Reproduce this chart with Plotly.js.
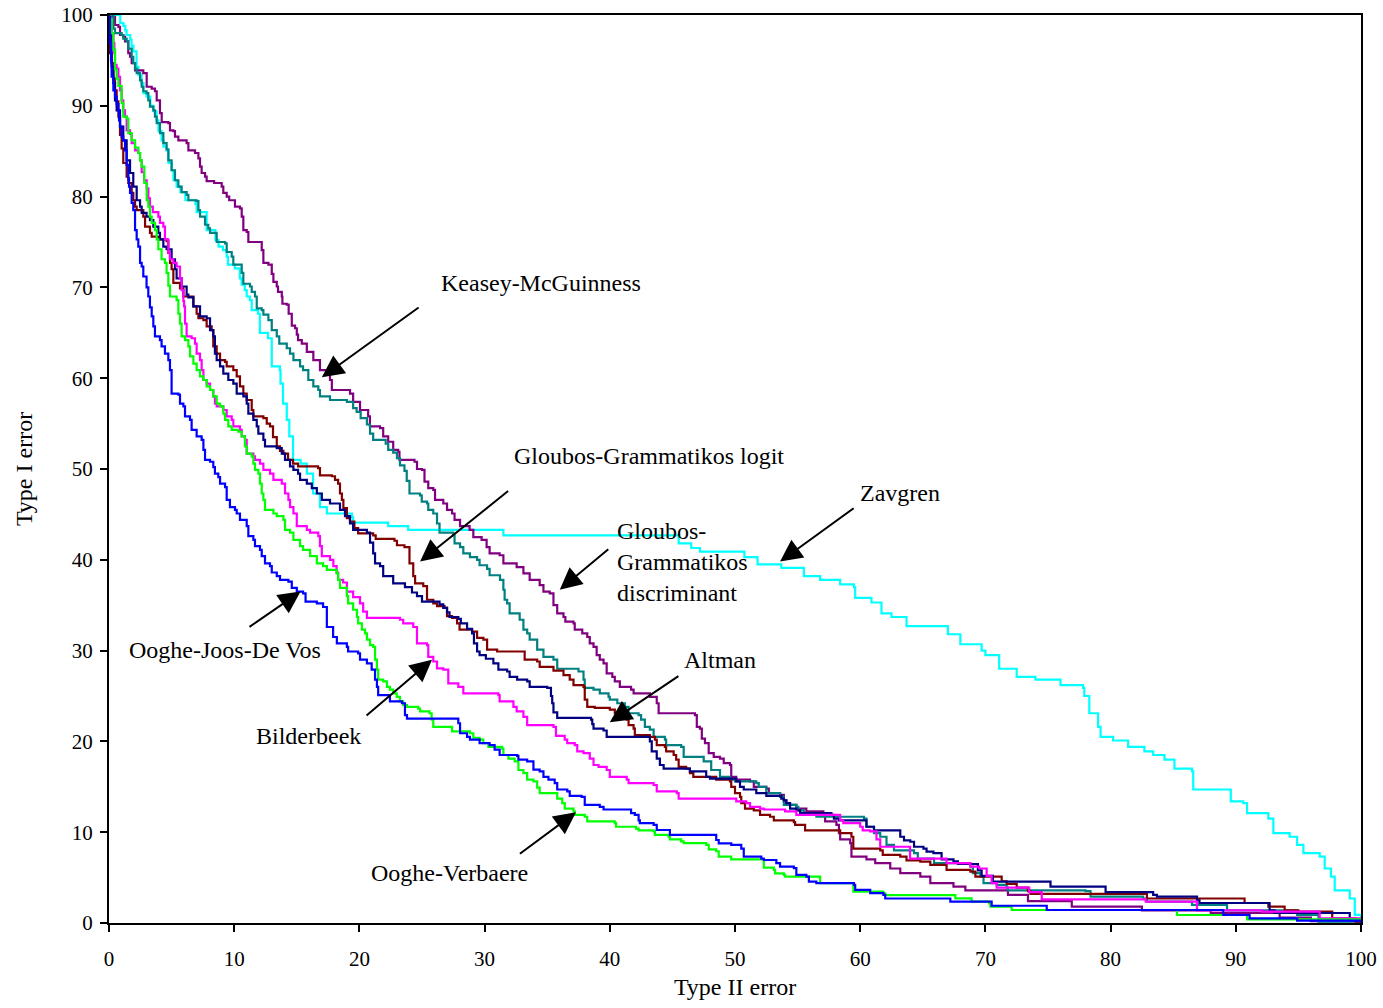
<!DOCTYPE html>
<html>
<head>
<meta charset="utf-8">
<script src="https://cdn.plot.ly/plotly-3.0.1.min.js"></script>
<style>html,body{margin:0;padding:0;background:#fff;}</style>
</head>
<body>
<div id="chart" style="width:1383px;height:1008px;"></div>
<script>
// Axis ticks
const xTicks = [0,10,20,30,40,50,60,70,80,90,100];
const yTicks = [0,10,20,30,40,50,60,70,80,90,100];

// Series: [Type II error, Type I error] corner points of each step curve
const zavgren = [[0,100],[0.8,100],[0.9,99.1],[1.15,98.8],[1.3,98.3],[1.4,97.8],[1.7,97.3],[1.8,96.6],[1.95,96],[2.2,94.3],[2.35,93.4],[2.6,92.5],[2.75,91.4],[3,91],[3.3,90],[3.55,89.4],[3.8,88.4],[3.95,87.2],[4.2,86.2],[4.35,85.5],[4.6,85.1],[4.75,83.7],[5,82.9],[5.15,81.8],[5.4,81.1],[5.7,80.5],[6.1,79.6],[6.9,79.2],[7,78.3],[7.8,76.3],[8.5,75.2],[8.75,74.5],[9.1,74.1],[9.4,73.4],[9.5,72.5],[10.05,72.1],[10.45,71],[10.6,70.3],[10.85,69.7],[11,69],[11.25,68.6],[11.4,67.5],[11.9,67.1],[12.05,65],[12.7,64.4],[13,61.3],[13.65,60.9],[13.7,59.4],[13.9,57.2],[14.2,55.4],[14.4,53.6],[14.7,51],[15.3,50.6],[15.8,49.5],[16.3,47.3],[16.85,45.8],[17.4,45.1],[19.4,44.7],[19.5,44.1],[22.3,43.7],[23.9,43.3],[31.5,42.7],[44.5,42.7],[45.5,41.8],[46.5,41.3],[47.2,40.9],[50.75,40.3],[51.8,39.5],[53.7,39.1],[55.5,38.2],[56.8,37.8],[58.4,37.3],[59.5,37],[59.6,35.8],[60.9,35.3],[61.7,34.1],[62.5,33.7],[63.7,32.7],[67,31.8],[68,30.7],[69.7,30],[70,29.5],[71.1,28],[72.5,27.1],[74,26.8],[76,26.2],[77.8,25.9],[77.9,25],[78.3,23.1],[79,21.6],[79.2,20.5],[80.2,20.1],[81.4,19.4],[82.7,18.9],[83.4,18.5],[84.3,18],[85.1,17],[86.5,16.7],[86.6,14.7],[89.6,13.4],[90.6,13.2],[90.9,12.1],[92.6,11.5],[93,9.9],[94.3,9.5],[94.9,8.6],[95.4,7.7],[96.7,7.3],[97.1,6],[97.6,5.1],[97.9,3.6],[99.1,2.7],[99.5,0.9],[100,0]];

const grammatikosDiscriminant = [[0,100],[0.2,99.8],[0.48,98.9],[0.75,98.7],[0.88,97.8],[1.14,97.6],[1.28,97.1],[1.54,95.8],[1.68,95.4],[1.81,94.7],[2.08,93.9],[2.74,93.6],[3.01,92.1],[3.41,91.9],[3.67,91.6],[3.81,90.6],[4.07,89.2],[4.21,88.2],[4.74,88.1],[4.87,87.3],[5.14,87.2],[5.27,86.6],[5.54,86.2],[6.2,85.9],[6.34,85.1],[6.87,84.8],[7.14,84.2],[7.27,83.3],[7.4,82.6],[7.67,82.2],[7.8,81.7],[8.4,81.5],[9,81.1],[9.13,80.4],[9.4,80],[9.6,79.6],[10.06,78.9],[10.46,78.7],[10.6,77.8],[10.73,76.3],[11,76.1],[11.13,75],[12.2,74.1],[12.33,72.7],[12.73,72.5],[13,71.5],[13.13,70.6],[13.4,70.1],[13.5,69.5],[13.8,69],[13.85,68.2],[14.2,68.1],[14.35,67.1],[14.6,65.8],[14.86,65.5],[15,64.8],[15.1,64.2],[15.4,63.8],[15.8,62.9],[16.32,62],[16.85,60.9],[17.65,59.8],[17.8,58.7],[19.25,58.3],[19.5,57.4],[20.05,56.5],[20.7,55.8],[20.84,54.7],[21.65,54.5],[21.9,53.6],[22.3,53],[22.7,52.1],[23.1,51.9],[23.2,51],[24.4,50.8],[24.6,50],[25,49.9],[25.2,48.6],[25.5,47.9],[25.9,47.7],[26.04,46.6],[26.7,46.2],[27,45.5],[27.4,45.1],[27.6,44.4],[28.04,43.7],[28.8,43.3],[29.1,42.5],[29.76,42.2],[30.16,41.4],[30.4,40.7],[31.2,40.5],[31.5,39.6],[32.56,39.2],[33.1,38.5],[33.6,37.8],[34.4,37.2],[34.7,36.5],[35.2,36.3],[35.5,35],[35.8,34.1],[36.3,33.7],[36.45,33.2],[37.1,33],[37.2,32.3],[37.8,31.9],[38.2,31.5],[38.4,30.8],[38.7,30.4],[38.95,29.5],[39.2,29],[39.5,28.6],[39.75,27.5],[40.2,27.1],[40.4,26.6],[40.8,26],[41.7,25.7],[41.9,25.3],[43.2,24.9],[43.75,24.2],[43.9,23.1],[46.8,22.9],[46.95,21.6],[47.2,21.4],[47.35,20.3],[47.6,19.8],[47.9,18.7],[48.3,18.3],[48.8,18.1],[49.1,17.6],[49.6,17.4],[49.7,16.1],[50.1,15.8],[51.2,15.6],[51.5,15],[52.5,14.8],[52.7,14.3],[53.6,14.1],[53.9,13.5],[54.1,13],[54.9,12.6],[55.7,12.3],[57.06,12.1],[57.2,11.2],[58.1,10.8],[58.3,9.9],[58.4,9.2],[59.2,8.8],[59.3,7.3],[60.5,7],[61.2,6.6],[62.4,6],[63.2,5.5],[64.8,5.1],[65.6,4.4],[67.45,4],[68.4,3.6],[71.8,3.1],[73.4,2.4],[76.9,1.8],[82.5,1.4],[88,1.1],[93.5,0.6],[96,0.2],[100,0]];

const keaseyMcGuinness = [[0,100],[0.21,100],[0.35,98.5],[0.48,98],[1.01,97.8],[1.14,97.4],[1.41,97.1],[1.54,96.3],[1.81,95.4],[1.94,94.7],[2.08,94.1],[2.21,93.6],[2.48,92.8],[2.61,92.1],[2.74,91.6],[3,91.4],[3.14,90.6],[3.27,89.9],[3.54,89.5],[3.67,88.8],[3.81,88.1],[4.07,87],[4.34,85.9],[4.6,85.2],[4.74,84],[5,82.9],[5.27,81.8],[5.54,81.1],[5.8,80.5],[6.2,80.2],[6.34,79.6],[7,79.5],[7.14,78.5],[7.27,77.8],[7.67,76.9],[7.93,76.5],[8.07,76],[8.6,75],[9.27,74.85],[9.4,73.9],[9.8,73.4],[9.93,72.5],[10.6,71.6],[10.73,70.4],[11.26,70.1],[11.4,69.5],[11.66,69],[11.8,67.7],[12.2,67.5],[12.33,67],[12.73,66.4],[13,65.3],[13.4,64.6],[13.6,63.8],[14.2,63.3],[14.46,62.7],[14.73,62],[15.26,61.3],[15.5,60.9],[15.92,59.8],[16.32,59.1],[16.72,58.7],[16.85,58],[17.65,57.6],[19,57.4],[19.5,56.7],[19.78,56.3],[20.1,55.6],[20.6,54.9],[20.85,53.9],[21.1,53.2],[22.1,52.8],[22.3,52.1],[22.7,51.8],[23,51.2],[23.24,50.4],[23.6,49.8],[23.78,48.7],[24,47.3],[24.84,47.1],[24.98,46.4],[25.4,46.2],[25.5,45.5],[25.9,45.1],[26.2,44],[26.4,43],[27.5,42.7],[27.6,41.8],[28.04,41.4],[28.3,40.7],[28.83,40.3],[29.4,40],[29.6,39.4],[30.2,39],[30.4,38.3],[31.23,37.8],[31.5,36.7],[31.6,35.6],[31.8,35.2],[32,34.1],[32.8,33.4],[33.1,32.3],[33.4,31.9],[33.6,31.2],[34.2,30.1],[34.7,29.3],[35.5,29],[35.8,28],[37.5,27.7],[37.9,26.8],[38,25.9],[38.7,25.7],[39.2,25.3],[39.9,24.9],[40,24.6],[40.6,24.2],[41.2,23.8],[41.5,23.1],[42.3,22.9],[42.5,22.4],[42.8,21.6],[43.2,21.3],[43.5,20.5],[44.4,20.2],[44.5,19.6],[45.7,19.4],[45.9,18.3],[47.5,17.8],[48.1,16.85],[48.8,16.1],[49.6,15.8],[50,15.6],[51.7,15.4],[51.9,15],[52.5,14.3],[53.6,13.9],[53.9,13],[54.9,12.8],[55.06,12.4],[55.5,12.1],[56.5,11.7],[60.3,11.5],[60.5,10.6],[61.1,9.9],[61.6,9.5],[62.1,8.6],[62.7,8],[64.3,7.7],[64.6,7.1],[65.9,6.6],[68.8,6.2],[69,5.5],[69.6,5.1],[69.85,4.4],[70.9,4.2],[71.7,3.9],[71.8,3.6],[78,3.5],[78.4,2.9],[82.6,2.7],[82.9,2.35],[86.5,2],[89.3,1.4],[94.9,0.9],[96.6,0.15],[100,0]];

const grammatikosLogit = [[0,100],[0.08,95.8],[0.21,94.7],[0.35,93],[0.48,91.7],[0.61,90.5],[0.75,88.8],[0.88,86.8],[1.01,85.3],[1.14,83.7],[1.41,82.2],[1.54,81.5],[1.81,80.4],[1.94,79.6],[2.08,78.9],[2.21,78.5],[2.74,77.8],[2.88,76.7],[3.27,76],[3.41,75.6],[3.94,75.3],[4.6,75.1],[4.74,73.8],[4.87,72.7],[5,72],[5.14,70.5],[5.67,69.9],[5.94,69],[6.74,67.9],[7,67.1],[7.14,66.6],[7.54,66.4],[7.8,65.7],[8.2,65.3],[8.33,63.5],[8.6,62.7],[8.87,62],[9.27,61.8],[9.4,61.3],[9.93,60.9],[10.2,60.2],[10.46,59.1],[10.73,58.3],[11,57.6],[11.4,56.5],[11.53,55.8],[12.33,55.6],[12.6,55],[12.86,54.7],[13.1,53.5],[13.4,52.5],[13.66,52],[13.93,51.7],[14.3,51],[14.7,50.6],[15.1,50.3],[16.7,50.1],[16.85,49.3],[17.8,49.2],[18.05,48.8],[18.3,48.4],[18.45,47.3],[18.6,46.6],[18.72,45.7],[19,44.6],[19.25,44.2],[19.6,43.5],[19.9,42.9],[21.1,42.7],[21.3,42.3],[22.8,42.1],[23,41.6],[23.6,41.4],[24,39.6],[24.3,38.2],[24.45,37.4],[25.1,37.1],[25.4,35.6],[25.9,35.2],[26.2,34.9],[26.8,34.7],[27,33.8],[27.4,33.6],[27.8,33],[28,32.3],[29,32.1],[29.4,31.4],[29.9,31.2],[30.2,30.1],[31,29.9],[33.2,29],[34.2,28.8],[34.4,28.2],[35.5,27.8],[36.3,27.3],[36.8,26.8],[37.1,26.2],[37.9,26],[38,24.6],[38.2,23.8],[38.8,23.7],[40,23.5],[40.4,23.1],[40.8,22.9],[40.95,22.5],[41.35,22.4],[41.5,21.8],[41.9,21.4],[42,20.7],[43.2,20.5],[43.6,20.2],[43.75,19.6],[44.4,19.4],[44.5,18.9],[45.1,18.5],[45.3,18],[45.5,17.2],[46.1,17],[46.4,16.5],[46.67,16.1],[48.5,15.8],[49.6,15.6],[49.7,15],[50,14.3],[50.4,13.9],[50.5,13.2],[50.8,12.6],[51.5,12.4],[52,11.9],[52.8,11.7],[53.1,11.3],[54.7,11.1],[54.8,10.8],[55.6,10.2],[58.4,9.9],[59.3,9.5],[59.45,8.2],[61.6,8],[61.8,7.5],[63.2,7.3],[63.7,6.9],[64.8,6.75],[65.6,6.4],[66.9,5.84],[68.8,5.65],[69.2,5.1],[71.3,4.6],[71.7,4.3],[72.5,3.9],[73.4,3.5],[73.6,3.2],[82.9,2.7],[90.7,2.2],[92.6,1.8],[93.9,1.4],[95,1.25],[97.7,0.5],[99.6,0.15],[100,0]];

const altman = [[0,100],[0.05,98],[0.21,94.3],[0.35,92.5],[0.48,90.6],[0.61,89.5],[0.88,87.7],[1.14,86.2],[1.41,84],[1.68,82.6],[1.94,81.1],[2.21,79.6],[2.48,78.9],[2.61,78.2],[3,77.8],[3.27,77.4],[3.54,76.7],[3.94,76],[4.07,75.3],[4.34,74.5],[4.6,74.2],[5,73.1],[5.27,72],[5.4,71],[5.8,70.1],[6.2,69.2],[6.34,68.9],[6.74,67.9],[7.27,66.8],[7.8,66.6],[8.07,65.3],[8.33,64.6],[8.46,62.7],[8.6,62],[8.87,61.3],[9.13,60.5],[9.53,59.8],[9.93,59.4],[10.2,58.3],[10.73,58],[11,57.2],[11.13,56.1],[11.53,55.4],[11.8,54.7],[11.93,53.9],[12.33,53.2],[12.46,52.5],[13.4,52.3],[13.8,51.7],[14.06,51],[14.46,50.3],[14.73,49.9],[15.1,49.5],[15.26,48.8],[15.8,48.4],[16.2,47.9],[16.6,47.3],[17,46.6],[17.65,46.2],[18.45,45.5],[18.85,44.8],[19.25,44],[19.5,43.3],[20.6,43],[20.85,41.9],[21.1,40.7],[21.25,39.6],[21.65,39.3],[21.9,38.2],[22.7,37.4],[23.64,37],[24.2,36.4],[24.6,36],[25,35.4],[26.4,35.1],[26.7,34.7],[27,34.2],[27.2,33.7],[27.9,33.5],[28.1,33],[28.6,32.4],[29,31.9],[29.15,30.8],[29.4,29.9],[29.6,29.5],[30.1,29.1],[30.7,28.6],[31.1,27.9],[31.8,27.7],[32,27.1],[32.6,26.8],[33.4,26.6],[33.6,26],[35,25.9],[35.3,25],[35.4,24.2],[35.5,23.2],[35.8,22.6],[38.5,22.4],[38.6,21.9],[38.7,21.4],[39.5,21.2],[39.75,20.5],[43.2,20],[43.35,18.9],[43.75,18.1],[44,17.4],[44.3,17],[46.4,16.7],[47.7,16.1],[48,15.9],[50.1,15.6],[50.4,15],[50.7,14.7],[51.7,14.3],[52.5,14],[53.7,13.7],[53.9,13.5],[54.1,13.2],[54.4,12.6],[54.9,12.4],[55.2,12.1],[57.7,11.9],[57.9,11.5],[58.3,11.3],[60.5,10.6],[61.1,10.2],[63.2,9.5],[63.5,9.1],[64,8.95],[64.3,8.4],[65.05,8.2],[65.3,7.85],[65.85,7.7],[66.5,7],[67.45,6.8],[67.8,6.5],[69.4,5.8],[69.7,5.2],[70.6,4.55],[75.2,4],[79.6,3.4],[83.4,3.1],[83.7,2.9],[86.9,2.5],[87.1,2.2],[92.7,1.4],[93.1,1.1],[99.1,0.3],[100,0]];

const bilderbeek = [[0,100],[0.08,99.1],[0.21,98],[0.35,96.9],[0.43,95.8],[0.48,94.5],[0.61,94.1],[0.75,93.2],[0.88,91.7],[1.01,90.6],[1.14,89.5],[1.28,88.8],[1.41,87.3],[1.68,86.9],[1.81,85.9],[2.08,85.1],[2.34,84.8],[2.48,84],[2.61,82.7],[2.8,81.8],[3.01,80.9],[3.14,79.8],[3.27,78.9],[3.5,78.3],[3.94,77.8],[4.07,77.1],[4.34,76.7],[4.47,75.3],[4.74,73.8],[4.87,73.1],[5.14,72.7],[5.4,72.3],[5.67,71],[5.8,69.7],[5.94,68.5],[6,67.9],[6.07,66],[6.2,64.6],[6.6,64.4],[6.87,63.8],[7,62.7],[7.27,62],[7.4,60.9],[7.54,59.8],[7.8,59.4],[8.07,58.7],[8.33,58],[8.46,57.2],[8.6,56.9],[9.13,56.5],[9.4,55.8],[9.8,55.4],[9.93,54.7],[10.46,54.3],[10.6,53.6],[10.86,53.2],[11,51.7],[11.53,51.4],[11.66,51],[12.06,50.6],[12.33,49.9],[12.86,49.5],[13.13,48.8],[13.8,48.4],[14.06,47.3],[14.33,46.6],[14.46,45.8],[14.73,45.1],[15,43.7],[15.8,43.3],[16.06,43],[16.72,42.6],[16.85,41.5],[17,40.4],[17.65,40],[17.92,39.3],[18.18,38.6],[18.3,37.8],[18.7,37.5],[19,36.5],[19.5,35.9],[20.05,35.2],[20.3,34.3],[20.6,33.6],[23.24,33.4],[23.5,33],[24.3,32.6],[24.6,30.8],[25.4,30.6],[25.5,29.3],[25.9,28.8],[26.2,28.05],[26.7,27.9],[27.1,26.4],[27.9,26],[28.3,25.3],[31.1,25.1],[31.2,24.4],[32.3,23.8],[32.56,23.3],[33.1,22.7],[33.4,21.8],[35.5,21.6],[35.7,20.6],[36.4,20.2],[36.6,19.8],[37.2,19.6],[37.4,18.9],[37.9,18.7],[38.4,18.1],[38.7,17.4],[39.1,17.2],[39.75,16.85],[40,16.1],[41.35,15.8],[41.5,15.4],[43.5,15.2],[43.75,14.5],[45.35,14.3],[45.5,13.7],[50.1,13.4],[50.9,13.2],[51.2,12.8],[52,12.6],[52.3,12.5],[54,12.3],[54.9,11.9],[58.4,11.3],[58.65,11],[60,10.6],[60.2,10.2],[60.8,10.1],[61.3,9.2],[61.6,8.4],[63.98,7.1],[66.9,6.6],[68.8,6.2],[69.5,6],[70.1,5.2],[70.5,4.4],[70.9,3.9],[73.5,3.4],[74.5,2.6],[82.8,2.35],[86.9,1.4],[92.1,1.25],[96.7,0.5],[100,0]];

const oogheVerbaere = [[0,100],[0.1,99.5],[0.21,98],[0.35,96.2],[0.48,94],[0.61,93],[0.75,92.2],[1.01,90.3],[1.14,88.8],[1.41,88.6],[1.54,87],[1.81,86.2],[2.08,85.4],[2.34,84.8],[2.48,84],[2.61,83.3],[2.82,81.5],[3.01,79.6],[3.14,78.9],[3.27,77.8],[3.41,77.1],[3.67,76.3],[3.81,75.3],[3.94,74.2],[4.2,73.1],[4.47,72.7],[4.6,71.6],[4.74,70.2],[4.87,69],[5.4,68.6],[5.54,67.1],[5.67,66],[5.8,64.6],[6.07,64.2],[6.34,63.5],[6.47,62.4],[6.74,61.6],[7,60.9],[7.27,60.2],[7.54,59.8],[7.8,59.1],[8.07,58.7],[8.33,58],[8.6,57.2],[8.87,56.9],[9.13,56.1],[9.27,55.4],[9.53,54.7],[9.8,54.3],[10.33,54.1],[10.6,53.6],[10.86,52.5],[11,51.7],[11.4,51.4],[11.53,50.6],[11.66,49.9],[11.93,49.5],[12.06,48.4],[12.2,47.3],[12.33,46.6],[12.46,45.5],[13.13,45.1],[13.4,44.8],[13.93,44.4],[14.06,43.3],[14.46,43],[14.73,42.2],[15.26,41.5],[15.5,41.1],[16.06,40.4],[16.6,39.6],[17.1,39.3],[17.4,38.9],[18.18,38.5],[18.3,37.8],[18.45,36.9],[19,36],[19.1,35.2],[19.5,34.5],[19.8,33.7],[19.9,33],[20.2,32.3],[20.45,31.9],[20.6,31.2],[20.85,30.6],[21.1,30.4],[21.25,29],[21.4,27.9],[21.5,26.8],[21.9,26.6],[22.2,26],[22.44,25.7],[22.7,25.3],[22.98,24.9],[23.24,24.4],[23.5,24],[23.8,23.8],[24.7,23.6],[24.84,23.3],[25.6,23.1],[25.77,22.4],[25.9,21.6],[27.4,21.1],[28.83,20.9],[29.1,20.4],[29.6,20.2],[29.9,19.8],[30.3,19.4],[31.4,19.2],[31.5,18.5],[31.9,18.1],[32.4,17.8],[32.7,16.85],[33.1,16.5],[33.4,15.8],[33.9,15.6],[34.2,14.9],[34.4,14.3],[35.8,13.7],[36.2,13.2],[36.4,12.6],[37.1,12.3],[37.2,11.9],[38,11.7],[38.2,11.2],[40.4,11],[40.5,10.6],[42.1,10.4],[42.3,10.2],[43.5,10.1],[43.6,9.7],[44.7,9.5],[44.8,9.2],[45.7,9],[45.9,8.8],[47.7,8.6],[47.9,8.1],[48.5,7.9],[48.7,7.3],[49.7,7],[52.3,6.1],[53.1,5.84],[53.2,5.47],[53.9,5.29],[54,5.1],[56.8,4.4],[59.45,3.45],[61.85,3.27],[62,3.08],[67.6,2.71],[68.9,2.35],[70.3,2.16],[70.4,1.8],[72.1,1.43],[85.3,0.88],[90.9,0.4],[100,0]];

const oogheJoosDeVos = [[0,100],[0.02,99.8],[0.08,96.9],[0.16,95],[0.21,93.2],[0.35,91.7],[0.48,91],[0.61,90.2],[0.75,89.5],[0.8,88.4],[0.88,87.7],[1.01,86.6],[1.14,86.2],[1.28,85.1],[1.41,83.5],[1.54,82],[1.6,81.1],[1.68,80.4],[1.81,79.3],[1.94,78.5],[2.08,76.3],[2.21,75.3],[2.34,74.5],[2.48,72.7],[2.61,72.3],[2.74,71.2],[3,70],[3.14,69],[3.27,67.8],[3.41,66.8],[3.54,65.7],[3.67,64.6],[4.07,64.2],[4.2,63.5],[4.47,62.7],[4.74,62],[4.87,60.9],[5,58.3],[5.54,58.2],[5.67,57.2],[5.94,56.9],[6.07,55.8],[6.47,55.4],[6.6,54.3],[7,53.6],[7.4,53.2],[7.54,52.1],[7.67,51],[8.07,50.8],[8.33,50.2],[8.46,49.5],[8.73,49.1],[8.87,48.4],[9.27,48],[9.4,46.6],[9.66,45.8],[10.06,45.5],[10.2,45.1],[10.46,44.4],[11,43.7],[11.13,42.6],[11.53,42.2],[11.66,41.5],[12.06,41.1],[12.2,40.4],[12.46,39.6],[12.86,39.3],[13,38.6],[13.4,38.2],[13.66,37.8],[14.33,37.6],[14.6,36.9],[15,36.5],[15.5,36.3],[15.7,35.4],[16.6,35.2],[17.1,34.8],[17.4,32.6],[17.9,31.5],[18.2,30.8],[19,30.4],[19.1,29.9],[19.9,29.7],[20.05,29],[20.6,28.6],[20.98,27.9],[21.25,26.8],[21.4,26],[21.5,25.1],[22.44,24.4],[23.4,24.2],[23.64,22.9],[23.8,22.5],[27.9,22],[28.04,20.9],[28.6,20.5],[28.83,20.2],[29.6,19.8],[30.4,19.6],[30.8,19.1],[31.2,18.5],[32.6,18.4],[32.7,18],[33.4,17.8],[33.9,16.9],[34.4,16.7],[34.7,16.1],[35.1,15.8],[35.6,15.4],[35.8,14.7],[36.6,14.5],[36.8,14],[37.75,13.9],[38,13],[39.2,12.8],[39.5,12.5],[41.7,12.1],[42,11.9],[42.3,11.3],[42.4,11],[43.5,10.8],[43.75,10.24],[44.8,9.7],[48.5,9.14],[48.7,8.77],[49.7,8.6],[50.5,8.2],[50.7,7.3],[52.1,7.1],[52.3,6.94],[53.3,6.6],[53.6,6.2],[54.7,6.04],[54.9,5.3],[55.7,5.1],[55.9,4.55],[56.5,4.4],[59.5,4.2],[59.6,3.65],[60.8,3.3],[61.85,3.1],[62,2.7],[67.2,2.35],[70.5,1.9],[74.9,1.43],[89,0.88],[91.1,0.51],[94.9,0.26],[100,0]];

// Label texts and where they sit; arrow tips and tails
const labelTexts = ['Keasey-McGuinness','Gloubos-Grammatikos logit','Zavgren','Gloubos-<br>Grammatikos<br>discriminant','Altman','Ooghe-Joos-De Vos','Bilderbeek','Ooghe-Verbaere'];
const labelX = [34.5, 43.1, 63.2, 40.4, 48.8, 9.3, 15.9, 27.2];
const labelY = [70.5, 51.4, 47.4, 39.8, 29.0, 30.1, 20.6, 5.5];
const arrowTipX = [17.0, 24.85, 53.6, 36.0, 40.0, 15.3, 25.8, 37.3];
const arrowTipY = [60.1, 39.8, 39.8, 36.7, 22.1, 36.5, 29.0, 12.2];
const arrowTailX = [24.85, 32.0, 59.6, 40.0, 45.6, 11.1, 20.45, 32.7];
const arrowTailY = [67.9, 47.7, 45.8, 41.3, 27.3, 32.5, 22.7, 7.5];

const series = [
  {name:'Zavgren', pts: zavgren, color:'#00FFFF'},
  {name:'Gloubos-Grammatikos discriminant', pts: grammatikosDiscriminant, color:'#800080'},
  {name:'Keasey-McGuinness', pts: keaseyMcGuinness, color:'#008080'},
  {name:'Gloubos-Grammatikos logit', pts: grammatikosLogit, color:'#800000'},
  {name:'Altman', pts: altman, color:'#000080'},
  {name:'Bilderbeek', pts: bilderbeek, color:'#FF00FF'},
  {name:'Ooghe-Verbaere', pts: oogheVerbaere, color:'#00FF00'},
  {name:'Ooghe-Joos-De Vos', pts: oogheJoosDeVos, color:'#0000FF'}
];

const FONT = 'Liberation Serif, Times New Roman, serif';

const traces = series.map(s => ({
  type: 'scatter', mode: 'lines', name: s.name,
  x: s.pts.map(p => p[0]), y: s.pts.map(p => p[1]),
  line: {color: s.color, width: 2.2, shape: 'hv'},
  hoverinfo: 'skip'
}));

const annotations = [];
for (let i = 0; i < labelTexts.length; i++) {
  annotations.push({
    x: arrowTipX[i], y: arrowTipY[i], xref: 'x', yref: 'y',
    ax: arrowTailX[i], ay: arrowTailY[i], axref: 'x', ayref: 'y',
    text: '', showarrow: true, arrowhead: 2, arrowsize: 2.2, arrowwidth: 2,
    arrowcolor: '#000', standoff: 0, startstandoff: 0
  });
  const isDisc = labelTexts[i].indexOf('<br>') >= 0;
  annotations.push({
    x: labelX[i], y: labelY[i], xref: 'x', yref: 'y',
    text: labelTexts[i], showarrow: false,
    xanchor: isDisc ? 'left' : 'center', yanchor: 'middle', align: 'left',
    font: {family: FONT, size: 24, color: '#000'}
  });
}

const axisCommon = {
  range: [0, 100], autorange: false,
  ticks: 'outside', ticklen: 7, tickwidth: 2, tickcolor: '#000',
  showline: true, linecolor: '#000', linewidth: 2, mirror: true,
  showgrid: false, zeroline: false,
  tickfont: {family: FONT, size: 21, color: '#000'}
};

const layout = {
  width: 1383, height: 1008,
  margin: {l: 109, r: 22, t: 15, b: 85},
  paper_bgcolor: '#fff', plot_bgcolor: '#fff',
  showlegend: false,
  font: {family: FONT, color: '#000'},
  xaxis: Object.assign({}, axisCommon, {
    tickvals: xTicks, ticktext: xTicks.map(String),
    ticklabelstandoff: 9,
    title: {text: 'Type II error', font: {family: FONT, size: 24, color: '#000'}, standoff: 8}
  }),
  yaxis: Object.assign({}, axisCommon, {
    tickvals: yTicks, ticktext: yTicks.map(String),
    ticklabelstandoff: 3,
    title: {text: 'Type I error', font: {family: FONT, size: 24, color: '#000'}, standoff: 22}
  }),
  annotations: annotations
};

Plotly.newPlot('chart', traces, layout, {staticPlot: true, displayModeBar: false});
</script>
</body>
</html>
